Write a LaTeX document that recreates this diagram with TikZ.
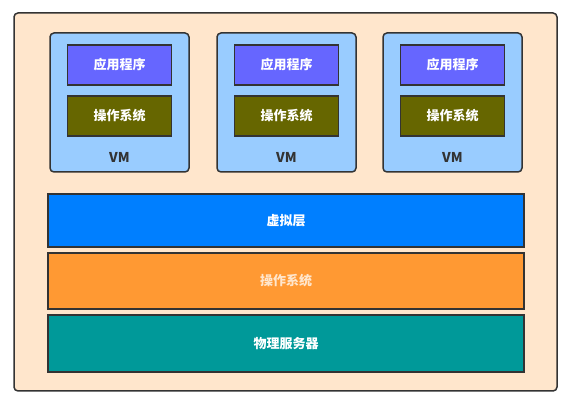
\documentclass[tikz,border=0pt]{standalone}
\usepackage{fontspec}
\setmainfont{Noto Sans CJK SC}
\usepackage{tikz}

\definecolor{peach}{HTML}{FFE6CC}
\definecolor{vmblue}{HTML}{99CCFF}
\definecolor{appblue}{HTML}{6666FF}
\definecolor{osolive}{HTML}{666600}
\definecolor{hvblue}{HTML}{007FFF}
\definecolor{hostorange}{HTML}{FF9933}
\definecolor{hwteal}{HTML}{009999}
\definecolor{edge}{HTML}{333333}

\begin{document}
\begin{tikzpicture}[x=1pt,y=-1pt,
  box/.style={draw=edge,line width=1.5pt,minimum width=104pt,minimum height=40pt,inner sep=0pt,
    font=\fontsize{13}{15}\selectfont\bfseries,text=white},
  layer/.style={box,minimum width=476pt}]
  \useasboundingbox (0,0) rectangle (571,403);
  \draw [edge,fill=peach,line width=1.5pt,rounded corners=4pt] (14,13) rectangle (557,391);
  \foreach \x/\n in {119.5/1,286.5/2,452.5/3}
  {
    \node [draw=edge,fill=vmblue,line width=1.5pt,rounded corners=4pt,minimum size=139pt] (vm\n) at (\x,102.5) {};
    \node [box,fill=appblue] (app\n) at (\x,65) {应用程序};
    \node [box,fill=osolive] (guest\n) at (\x,116) {操作系统};
    \node [font=\fontsize{13.5}{15}\selectfont\bfseries,text=edge] (vmlabel\n) at (\x,157) {VM};
  }
  \node [layer,fill=hvblue,minimum height=53pt] (hypervisor) at (286,220.5) {虚拟层};
  \node [layer,fill=hostorange,minimum height=56pt,text=peach] (hostos) at (286,281) {操作系统};
  \node [layer,fill=hwteal,minimum height=57pt] (server) at (286,343.5) {物理服务器};
\end{tikzpicture}
\end{document}
